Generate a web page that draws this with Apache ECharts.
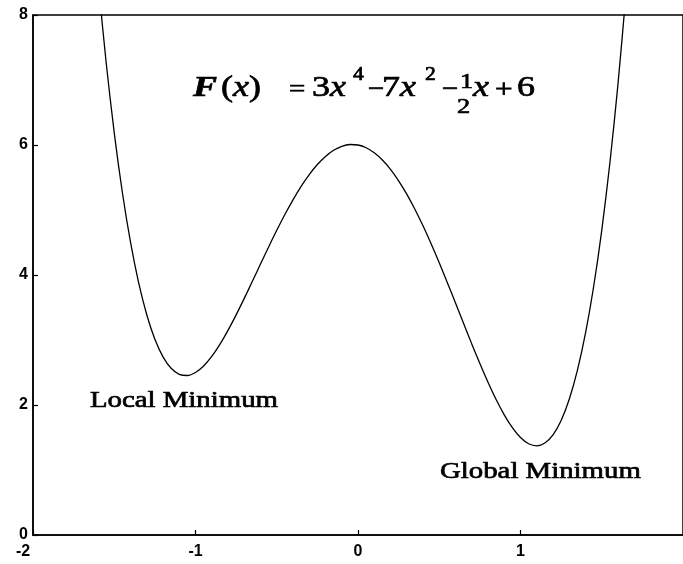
<!DOCTYPE html>
<html>
<head>
<meta charset="utf-8">
<script src="https://cdn.jsdelivr.net/npm/echarts@6/dist/echarts.min.js"></script>
<style>
  html, body { margin: 0; padding: 0; background: #fff; }
  #chart { width: 683px; height: 564px; }
</style>
</head>
<body>
<div id="chart"></div>
<script>
// Sample points of F(x) = 3x^4 - 7x^2 - x/2 + 6
const xValues = [
  -1.60, -1.55, -1.50, -1.45, -1.40, -1.35, -1.30, -1.25, -1.20, -1.15,
  -1.10, -1.05, -1.00, -0.95, -0.90, -0.85, -0.80, -0.75, -0.70, -0.65,
  -0.60, -0.55, -0.50, -0.45, -0.40, -0.35, -0.30, -0.25, -0.20, -0.15,
  -0.10, -0.05, 0.00, 0.05, 0.10, 0.15, 0.20, 0.25, 0.30, 0.35,
  0.40, 0.45, 0.50, 0.55, 0.60, 0.65, 0.70, 0.75, 0.80, 0.85,
  0.90, 0.95, 1.00, 1.05, 1.10, 1.15, 1.20, 1.25, 1.30, 1.35,
  1.40, 1.45, 1.50, 1.55, 1.60, 1.65
];
const fValues = [
  8.5408, 7.2735, 6.1875, 5.2690, 4.5048, 3.8820, 3.3883, 3.0117, 2.7408, 2.5645,
  2.4723, 2.4540, 2.5000, 2.6010, 2.7483, 2.9335, 3.1488, 3.3867, 3.6403, 3.9030,
  4.1688, 4.4320, 4.6875, 4.9305, 5.1568, 5.3625, 5.5443, 5.6992, 5.8248, 5.9190,
  5.9803, 6.0075, 6.0000, 5.9575, 5.8803, 5.7690, 5.6248, 5.4492, 5.2443, 5.0125,
  4.7568, 4.4805, 4.1875, 3.8820, 3.5688, 3.2530, 2.9403, 2.6367, 2.3488, 2.0835,
  1.8483, 1.6510, 1.5000, 1.4040, 1.3723, 1.4145, 1.5408, 1.7617, 2.0883, 2.5320,
  3.1048, 3.8190, 4.6875, 5.7235, 6.9408, 8.3535
];
const xTicks = { min: -2, max: 2, step: 1 };
const yTicks = { min: 0, max: 8, step: 2 };

const curve = xValues.map((x, i) => [x, fValues[i]]);

const serif = '"Liberation Serif", "Times New Roman", serif';
const sans = '"Liberation Sans", Arial, sans-serif';
const SX = 1.2; // horizontal stretch of the annotation lettering

function txt(x, y, text, size, opts) {
  opts = opts || {};
  return {
    type: 'text',
    x: x, y: y,
    scaleX: SX,
    z: 10,
    style: Object.assign({
      text: text,
      fontFamily: serif,
      fontSize: size,
      fontStyle: opts.italic ? 'italic' : 'normal',
      fontWeight: opts.bold ? 'bold' : 'normal',
      fill: '#000',
      stroke: '#000',
      lineWidth: 0.7,
      align: 'left',
      verticalAlign: 'middle'
    }, opts.rich ? { rich: opts.rich } : {})
  };
}

const ital = { i: { fontStyle: 'italic', fontFamily: serif, fontSize: 30 } };

const chart = echarts.init(document.getElementById('chart'));
chart.setOption({
  animation: false,
  backgroundColor: '#fff',
  grid: {
    left: 33, top: 15, right: -5, bottom: 29,
    show: true, borderColor: '#000', borderWidth: 1.5,
    backgroundColor: 'transparent'
  },
  xAxis: {
    type: 'value',
    min: xTicks.min, max: xTicks.max, interval: xTicks.step,
    axisLine: { show: true, onZero: false, lineStyle: { color: '#000', width: 1.5 } },
    axisTick: { show: true, inside: true, length: 5, lineStyle: { color: '#000', width: 1.2 } },
    splitLine: { show: false },
    axisLabel: {
      color: '#000', fontFamily: sans,
      fontWeight: 'bold', fontSize: 16, margin: 9,
      showMaxLabel: false,
      formatter: v => (v === xTicks.min ? '{l|' + v + '}' : String(v)),
      rich: { l: { fontFamily: sans, fontWeight: 'bold', fontSize: 16, color: '#000', padding: [0, 20, 0, 0] } }
    }
  },
  yAxis: {
    type: 'value',
    min: yTicks.min, max: yTicks.max, interval: yTicks.step,
    axisLine: { show: true, onZero: false, lineStyle: { color: '#000', width: 1.5 } },
    axisTick: { show: true, inside: true, length: 5, lineStyle: { color: '#000', width: 1.2 } },
    splitLine: { show: false },
    axisLabel: {
      color: '#000', fontFamily: sans,
      fontWeight: 'bold', fontSize: 16, margin: 5
    }
  },
  series: [{
    type: 'line',
    data: curve,
    smooth: 0.3,
    showSymbol: false,
    clip: true,
    lineStyle: { color: '#000', width: 1.3 }
  }],
  graphic: [
    // formula: F(x) = 3x^4 - 7x^2 - (1/2)x + 6
    txt(193, 88, 'F', 30, { italic: true, bold: true }),
    txt(221, 88, '({i|x})', 30, { rich: ital }),
    txt(289, 90, '=', 24),
    txt(312, 88, '3{i|x}', 30, { rich: ital }),
    txt(353, 75, '4', 18),
    txt(368, 90, '\u2212', 24),
    txt(382, 88, '7{i|x}', 30, { rich: ital }),
    txt(425, 75, '2', 18),
    txt(442, 90, '\u2212', 24),
    txt(460, 82, '1', 22),
    txt(457, 107, '2', 22),
    txt(473, 88, 'x', 30, { italic: true }),
    txt(495, 90, '+', 26),
    txt(517, 88, '6', 30),
    // labels of the two minima
    txt(90, 401, 'Local Minimum', 24),
    txt(440, 472, 'Global Minimum', 24)
  ]
});
</script>
</body>
</html>
